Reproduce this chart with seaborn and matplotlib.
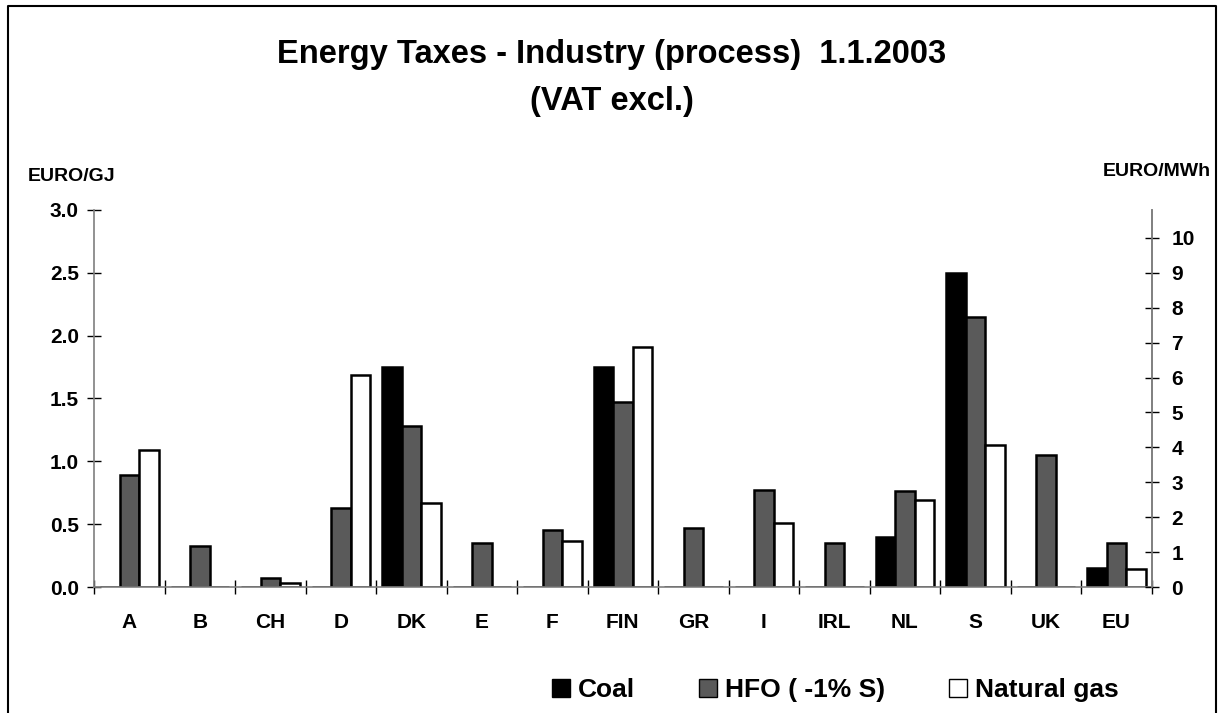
import numpy as np
import pandas as pd
import matplotlib
matplotlib.use("Agg")
import matplotlib.pyplot as plt
import seaborn as sns
from matplotlib.patches import Rectangle

# data (EURO/GJ)
countries = ['A', 'B', 'CH', 'D', 'DK', 'E', 'F', 'FIN', 'GR', 'I', 'IRL', 'NL', 'S', 'UK', 'EU']
coal = [0, 0, 0, 0, 1.75, 0, 0, 1.75, 0, 0, 0, 0.40, 2.50, 0, 0.15]
hfo = [0.89, 0.33, 0.07, 0.63, 1.28, 0.35, 0.45, 1.47, 0.47, 0.77, 0.35, 0.76, 2.15, 1.05, 0.35]
gas = [1.09, 0, 0.03, 1.69, 0.67, 0, 0.37, 1.91, 0, 0.51, 0, 0.69, 1.13, 0, 0.14]
fuels = ['Coal', 'HFO ( -1% S)', 'Natural gas']
colors = ['#000000', '#5a5a5a', '#ffffff']

df = pd.DataFrame({'country': countries, fuels[0]: coal, fuels[1]: hfo, fuels[2]: gas})
long = df.melt(id_vars='country', var_name='fuel', value_name='tax')

sns.set_theme(style="white")
plt.rcParams['font.family'] = ['Liberation Sans', 'DejaVu Sans']
plt.rcParams['font.weight'] = 'bold'
plt.rcParams['text.color'] = 'black'
plt.rcParams['xtick.color'] = 'black'
plt.rcParams['ytick.color'] = 'black'

fig = plt.figure(figsize=(12.23, 7.13), dpi=100)
ax = fig.add_axes([0.0769, 0.1767, 0.8648, 0.5288])

sns.barplot(data=long, x='country', y='tax', hue='fuel', hue_order=fuels,
            palette=colors, order=countries, width=0.83, gap=0,
            edgecolor='black', linewidth=1.8, saturation=1, ax=ax, legend=False)

ax.set_xlim(-0.5, len(countries) - 0.5)
ax.set_ylim(0, 3.0)
yt = np.arange(0, 3.01, 0.5)
ax.set_yticks(yt)
ax.set_yticklabels([f'{v:.1f}' for v in yt], fontsize=15, fontweight='bold')
ax.tick_params(axis='y', direction='inout', length=10, width=1, pad=6, left=True)
ax.set_xticks(range(len(countries)))
ax.set_xticklabels(countries, fontsize=15, fontweight='bold')
ax.set_xticks(np.arange(-0.5, len(countries), 1), minor=True)
ax.tick_params(axis='x', which='major', length=0, pad=19)
ax.tick_params(axis='x', which='minor', direction='inout', length=10, width=1, bottom=True)
ax.set_xlabel('')
ax.set_ylabel('')
for s in ['left', 'bottom', 'right']:
    ax.spines[s].set_visible(True)
    ax.spines[s].set_color('#7f7f7f')
    ax.spines[s].set_linewidth(1.2)
ax.spines['top'].set_visible(False)

# right axis in EURO/MWh (1 GJ = 1/3.6 MWh)
ax2 = ax.twinx()
ax2.set_ylim(0, 3.0 * 3.6)
ax2.set_yticks(range(0, 11))
ax2.set_yticklabels([str(v) for v in range(0, 11)], fontsize=15, fontweight='bold')
ax2.tick_params(axis='y', direction='inout', length=10, width=1, pad=9, right=True)
for s in ['left', 'bottom', 'top']:
    ax2.spines[s].set_visible(False)
ax2.spines['right'].set_color('#7f7f7f')
ax2.spines['right'].set_linewidth(1.2)

fig.text(0.5, 0.9116, 'Energy Taxes - Industry (process)  1.1.2003', ha='center', va='baseline',
         fontsize=23.5, fontweight='bold')
fig.text(0.5, 0.8457, '(VAT excl.)', ha='center', va='baseline', fontsize=23.5, fontweight='bold')
fig.text(0.023, 0.752, 'EURO/GJ', ha='left', va='center', fontsize=14, fontweight='bold')
fig.text(0.990, 0.760, 'EURO/MWh', ha='right', va='center', fontsize=14, fontweight='bold')

handles = [Rectangle((0, 0), 1, 1, facecolor=c, edgecolor='black', linewidth=1) for c in colors]
fig.legend(handles, fuels, loc='center', bbox_to_anchor=(0.683, 0.032), ncol=3, frameon=False,
           prop={'size': 19, 'weight': 'bold'}, handlelength=0.7, handleheight=0.7,
           handletextpad=0.3, columnspacing=2.4)

# outer frame (open at the bottom)
fig.add_artist(plt.Line2D([0.0065, 0.0065, 0.9943, 0.9943], [0, 0.992, 0.992, 0],
                          transform=fig.transFigure, color='black', linewidth=1.5))

fig.savefig('out.png', dpi=100)
